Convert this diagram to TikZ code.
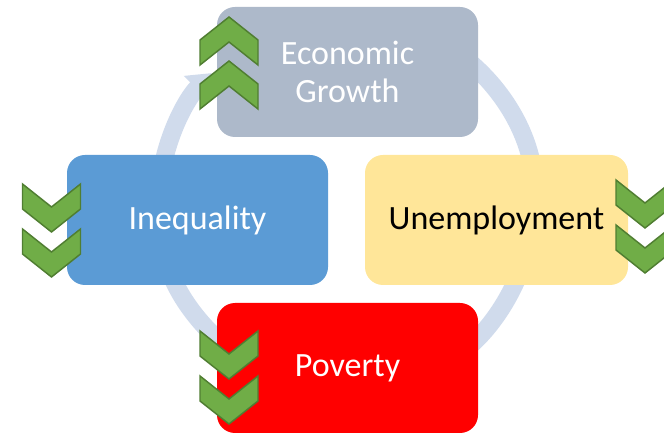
\documentclass[tikz,border=0pt]{standalone}
\usepackage{fontspec}
\setmainfont{Carlito}
\usetikzlibrary{arrows.meta}
\definecolor{boxgray}{HTML}{ADB9CA}
\definecolor{boxblue}{HTML}{5B9BD5}
\definecolor{boxyellow}{HTML}{FFE699}
\definecolor{boxred}{HTML}{FF0000}
\definecolor{chevfill}{HTML}{70AD47}
\definecolor{chevline}{HTML}{507E32}
\definecolor{ringblue}{HTML}{D0DBEC}
\tikzset{
  stage/.style={rounded corners=13.5pt, minimum width=195.75pt, minimum height=97.5pt,
    inner sep=0pt, align=center, font=\fontsize{25.5}{28}\selectfont},
  ring/.style={draw=ringblue, line width=13.5pt, -{Triangle[length=16pt, width=26pt]}},
  chevron/.style={fill=chevfill, draw=chevline, line width=1.1pt, line join=miter},
  pics/chevup/.style={code={
    \draw[chevron] (0,0) -- (29,23) -- (29,48) -- (0,25) -- (-29,48) -- (-29,23) -- cycle;}},
  pics/chevdown/.style={code={
    \draw[chevron] (0,23) -- (29,0) -- (29,25) -- (0,48) -- (-29,25) -- (-29,0) -- cycle;}}
}
\begin{document}
\begin{tikzpicture}[x=.75pt, y=-.75pt]
	\clip (0,0) rectangle (664,434);
	\useasboundingbox (0,0) rectangle (664,434);
	% cycle ring
	\coordinate (hub) at (346,203);
	\draw[ring] (hub) ++(-70:187) arc[start angle=-70, end angle=5,   radius=187];
	\draw[ring] (hub) ++(15:187)  arc[start angle=15,  end angle=62,  radius=187];
	\draw[ring] (hub) ++(120:187) arc[start angle=120, end angle=170, radius=187];
	\draw[ring] (hub) ++(190:187) arc[start angle=190, end angle=224, radius=187];
	% stages
	\node[stage, fill=boxgray,   text=white] (growth) at (347.5,72)  {Economic\\Growth};
	\node[stage, fill=boxblue,   text=white] (ineq)   at (197.5,220) {Inequality};
	\node[stage, fill=boxyellow, text=black, minimum width=197.25pt] (unemp) at (496.5,220) {Unemployment};
	\node[stage, fill=boxred,    text=white] (pov)    at (347.5,368) {Poverty};
	% trends
	\pic at (229,17)   {chevup};
	\pic at (229,61)   {chevup};
	\pic at (51.5,184) {chevdown};
	\pic at (51.5,229) {chevdown};
	\pic at (645,180)  {chevdown};
	\pic at (645,225)  {chevdown};
	\pic at (229,331)  {chevdown};
	\pic at (229,376)  {chevdown};
\end{tikzpicture}
\end{document}
